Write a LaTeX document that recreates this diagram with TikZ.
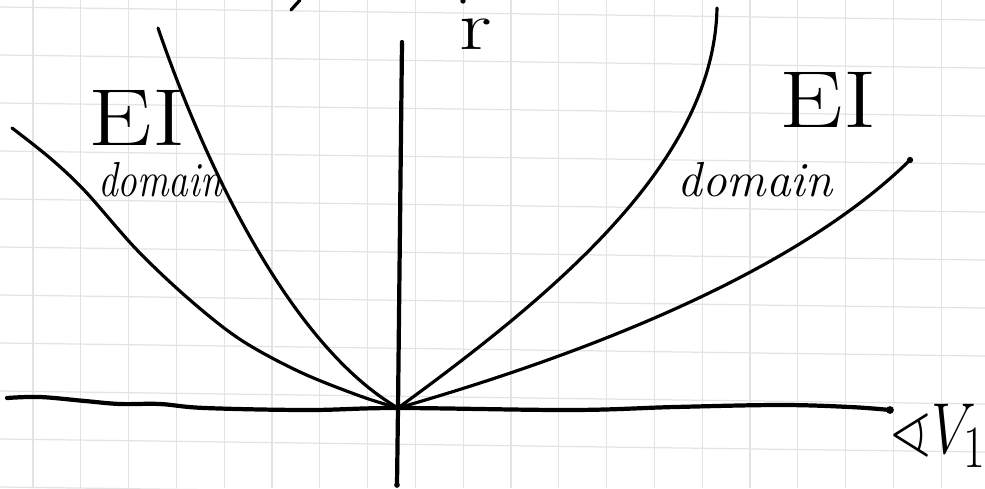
\documentclass[tikz,border=0pt]{standalone}
\usepackage{graphicx}
\usepackage{amssymb}
\begin{document}
\begin{tikzpicture}[x=0.02cm,y=-0.02cm,
  gridline/.style={draw=black!11,line width=0.7pt},
  axis/.style={line width=2.4pt,line cap=round,line join=round},
  curve/.style={line width=1.8pt,line cap=round,line join=round},
  lbl/.style={inner sep=0pt,outer sep=0pt},
  eilbl/.style={lbl,font=\fontsize{46}{46}\selectfont,xscale=1.25},
  domlbl/.style={lbl,font=\itshape\fontsize{28}{28}\selectfont}]
\useasboundingbox (0,0) rectangle (985,488);
\fill[white] (0,0) rectangle (985,488);
% squared paper
\foreach \k in {0,...,20} \draw[gridline] ({33+47.8*\k},0) -- ({33+47.8*\k},488);
\foreach \k in {0,...,10} \draw[gridline] (0,{7+48*\k}) -- (985,{20+48*\k});
% origin
\coordinate (O) at (398,408);
% axes
\coordinate (vtop) at (402,42);
\coordinate (vbot) at (397,485);
\draw[axis] (vtop) -- (O) -- (vbot);
\fill (vbot) circle (1.6pt);
\coordinate (hstart) at (7,398);
\coordinate (hend) at (890,410);
\draw[axis] plot[smooth,tension=0.6] coordinates {(hstart) (40,397) (85,401) (120,404) (160,404) (205,408) (309,410) (O) (571,410) (675,407) (780,405) (850,407) (hend)};
\fill (hend) circle (2.2pt);
% left outer curve
\coordinate (lotop) at (12,128);
\draw[curve] plot[smooth,tension=0.55] coordinates {(lotop) (50,158) (85,191) (137,250) (190,300) (241,340) (300,372) (360,396) (O)};
% left inner curve
\coordinate (litop) at (158,28);
\draw[curve] (O) .. controls (290,345) and (205,165) .. (litop);
% right inner curve
\coordinate (ritop) at (717,8);
\draw[curve] (O) .. controls (560,290) and (714,160) .. (ritop);
% right outer curve
\coordinate (rotop) at (910,160);
\draw[curve] (O) .. controls (600,350) and (800,268) .. (rotop);
\fill (rotop) circle (1.8pt);
% cut-off marks at top edge
\draw[curve] (300,0) -- (291,10);
\fill (463,1) circle (1.5pt);
% labels
\node[lbl] (rlbl) at (476,34) {\scalebox{2.1}[1.6]{\Huge r}};
\node[eilbl] (eil) at (137,118) {EI};
\node[domlbl,xscale=0.8] (doml) at (160,180) {domain};
\node[eilbl] (eir) at (828,100) {EI};
\node[domlbl] (domr) at (755,180) {domain};
\node[lbl,anchor=west] (ang) at (890,436) {\scalebox{1.3}[1.65]{\Huge$\sphericalangle V_1$}};
\end{tikzpicture}
\end{document}
